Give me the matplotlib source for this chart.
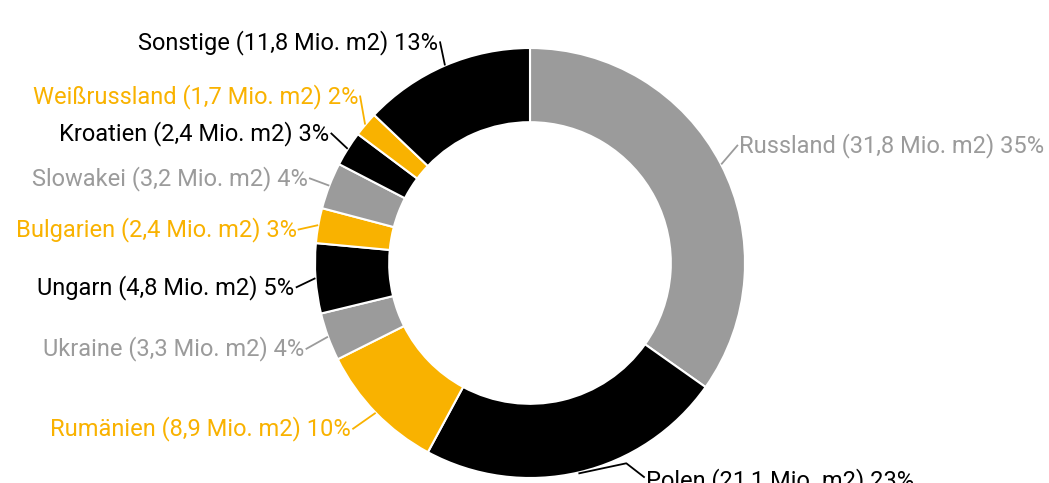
import numpy as np
import matplotlib.pyplot as plt

plt.rcParams['font.family'] = ['Roboto', 'DejaVu Sans']

laender = ['Russland', 'Polen', 'Rumänien', 'Ukraine', 'Ungarn', 'Bulgarien',
           'Slowakei', 'Kroatien', 'Weißrussland', 'Sonstige']
flaeche = [31.8, 21.1, 8.9, 3.3, 4.8, 2.4, 3.2, 2.4, 1.7, 11.8]  # Mio. m2
farben = ['#9b9b9b', '#000000', '#f9b200', '#9b9b9b', '#000000', '#f9b200',
          '#9b9b9b', '#000000', '#f9b200', '#000000']

# small nudges (pixels) so labels do not collide
nudge_x = [-4, 0, -6, 0, 4, 3, 2, 3, 12, 4]
nudge_y = [-8, 0, 0, 4, 7, 8, 1, -3, -13, -2]

fig = plt.figure(figsize=(10.49, 4.83), dpi=100)
ax = fig.add_axes([0, 0, 1, 1])

cx, cy, r = 530, 263, 215
wedges, _ = ax.pie(flaeche, colors=farben, center=(cx, cy), radius=r,
                   startangle=-90, counterclock=True,
                   wedgeprops=dict(width=r * 0.345, edgecolor='white', linewidth=1.5))

total = sum(flaeche)
for w, name, v, col, dx, dy in zip(wedges, laender, flaeche, farben, nudge_x, nudge_y):
    ang = np.deg2rad((w.theta1 + w.theta2) / 2)
    x0, y0 = cx + (r + 1) * np.cos(ang), cy + (r + 1) * np.sin(ang)
    x1, y1 = cx + 238 * np.cos(ang) + dx, cy + 238 * np.sin(ang) + dy
    if y1 > 478:
        # label pushed against the bottom edge, bent leader line
        y1 = 481
        x1 = cx + np.sqrt(246 ** 2 - (y1 - cy) ** 2) * np.sign(np.cos(ang))
        ax.plot([x0, x0 + 47, x1], [y0, y0 - 10, y1 - 4], color=col, lw=1.3)
    else:
        ax.plot([x0, x1], [y0, y1], color=col, lw=1.3)
    pct = round(v / total * 100)
    txt = f"{name} ({str(v).replace('.', ',')} Mio. m2) {pct}%"
    right = np.cos(ang) > 0
    ax.text(x1 + (2 if right else -2), y1, txt, color=col, fontsize=17,
            ha='left' if right else 'right', va='center')

ax.set_xlim(0, 1049)
ax.set_ylim(483, 0)
ax.set_aspect('equal')
ax.axis('off')

fig.savefig('out.png', dpi=100)
